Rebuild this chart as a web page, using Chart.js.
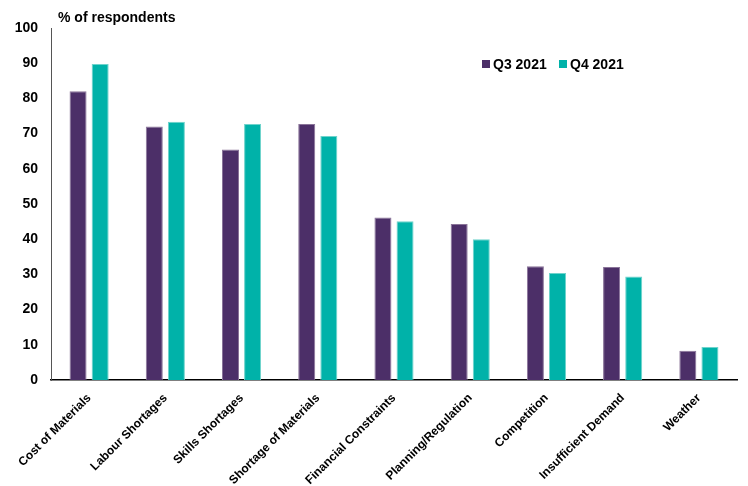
<!DOCTYPE html>
<html>
<head>
<meta charset="utf-8">
<script src="https://cdn.jsdelivr.net/npm/chart.js@4"></script>
<style>
  html, body { margin: 0; padding: 0; background: #fff; }
  #wrap { width: 748px; height: 486px; }
</style>
</head>
<body>
<div id="wrap"><canvas id="barChart" width="748" height="486"></canvas></div>
<script>
const categories = [
  "Cost of Materials", "Labour Shortages", "Skills Shortages",
  "Shortage of Materials", "Financial Constraints", "Planning/Regulation",
  "Competition", "Insufficient Demand", "Weather"
];
const q3_2021 = [82, 72, 65.5, 72.7, 46.2, 44.3, 32.3, 32.1, 8.3];
const q4_2021 = [89.8, 73.4, 72.7, 69.3, 45.1, 40.0, 30.4, 29.4, 9.4];
const yTicks = [0, 10, 20, 30, 40, 50, 60, 70, 80, 90, 100];

const FONT = "'Liberation Sans', Arial, sans-serif";

// axis caption and legend sit inside the plot, so draw them by hand
const extras = {
  id: "extras",
  afterDraw(chart) {
    const ctx = chart.ctx;
    ctx.save();
    ctx.fillStyle = "#000";
    ctx.font = "bold 14px " + FONT;
    ctx.textBaseline = "middle";
    ctx.textAlign = "left";
    ctx.fillText("% of respondents", 58, 18);

    let x = 482;
    chart.data.datasets.forEach(ds => {
      ctx.fillStyle = ds.backgroundColor;
      ctx.fillRect(x, 60, 8, 8);
      ctx.fillStyle = "#000";
      ctx.fillText(ds.label, x + 11, 65);
      x += 77;
    });
    ctx.restore();
  }
};

const canvas = document.getElementById("barChart");
const chart = new Chart(canvas, {
  type: "bar",
  data: {
    labels: categories,
    datasets: [
      {
        label: "Q3 2021",
        data: q3_2021,
        backgroundColor: "#4C2F68",
        borderColor: "#8A7499",
        borderWidth: 1,
        categoryPercentage: 0.58,
        barPercentage: 0.77,
      },
      {
        label: "Q4 2021",
        data: q4_2021,
        backgroundColor: "#00B2A9",
        borderColor: "#6FD3CC",
        borderWidth: 1,
        categoryPercentage: 0.58,
        barPercentage: 0.77,
      },
    ],
  },
  options: {
    responsive: false,
    animation: false,
    layout: { padding: { top: 28, right: 11, left: 0, bottom: 0 } },
    plugins: {
      legend: { display: false },
      tooltip: { enabled: false },
    },
    scales: {
      x: {
        grid: { display: false, drawTicks: false },
        border: { display: true, color: "#000", width: 1.5 },
        ticks: {
          color: "#000",
          font: { family: FONT, size: 12, weight: "bold" },
          maxRotation: 45,
          minRotation: 45,
          padding: 11,
        },
        afterFit(scale) { scale.height = 106; },
      },
      y: {
        min: 0,
        max: 100,
        grid: { display: false, drawTicks: false },
        border: { display: true, color: "#555", width: 1 },
        afterBuildTicks(scale) { scale.ticks = yTicks.map(v => ({ value: v })); },
        ticks: {
          color: "#000",
          font: { family: FONT, size: 14, weight: "bold" },
          padding: 13,
        },
        afterFit(scale) { scale.width = 51; },
      },
    },
  },
  plugins: [extras],
});
</script>
</body>
</html>
